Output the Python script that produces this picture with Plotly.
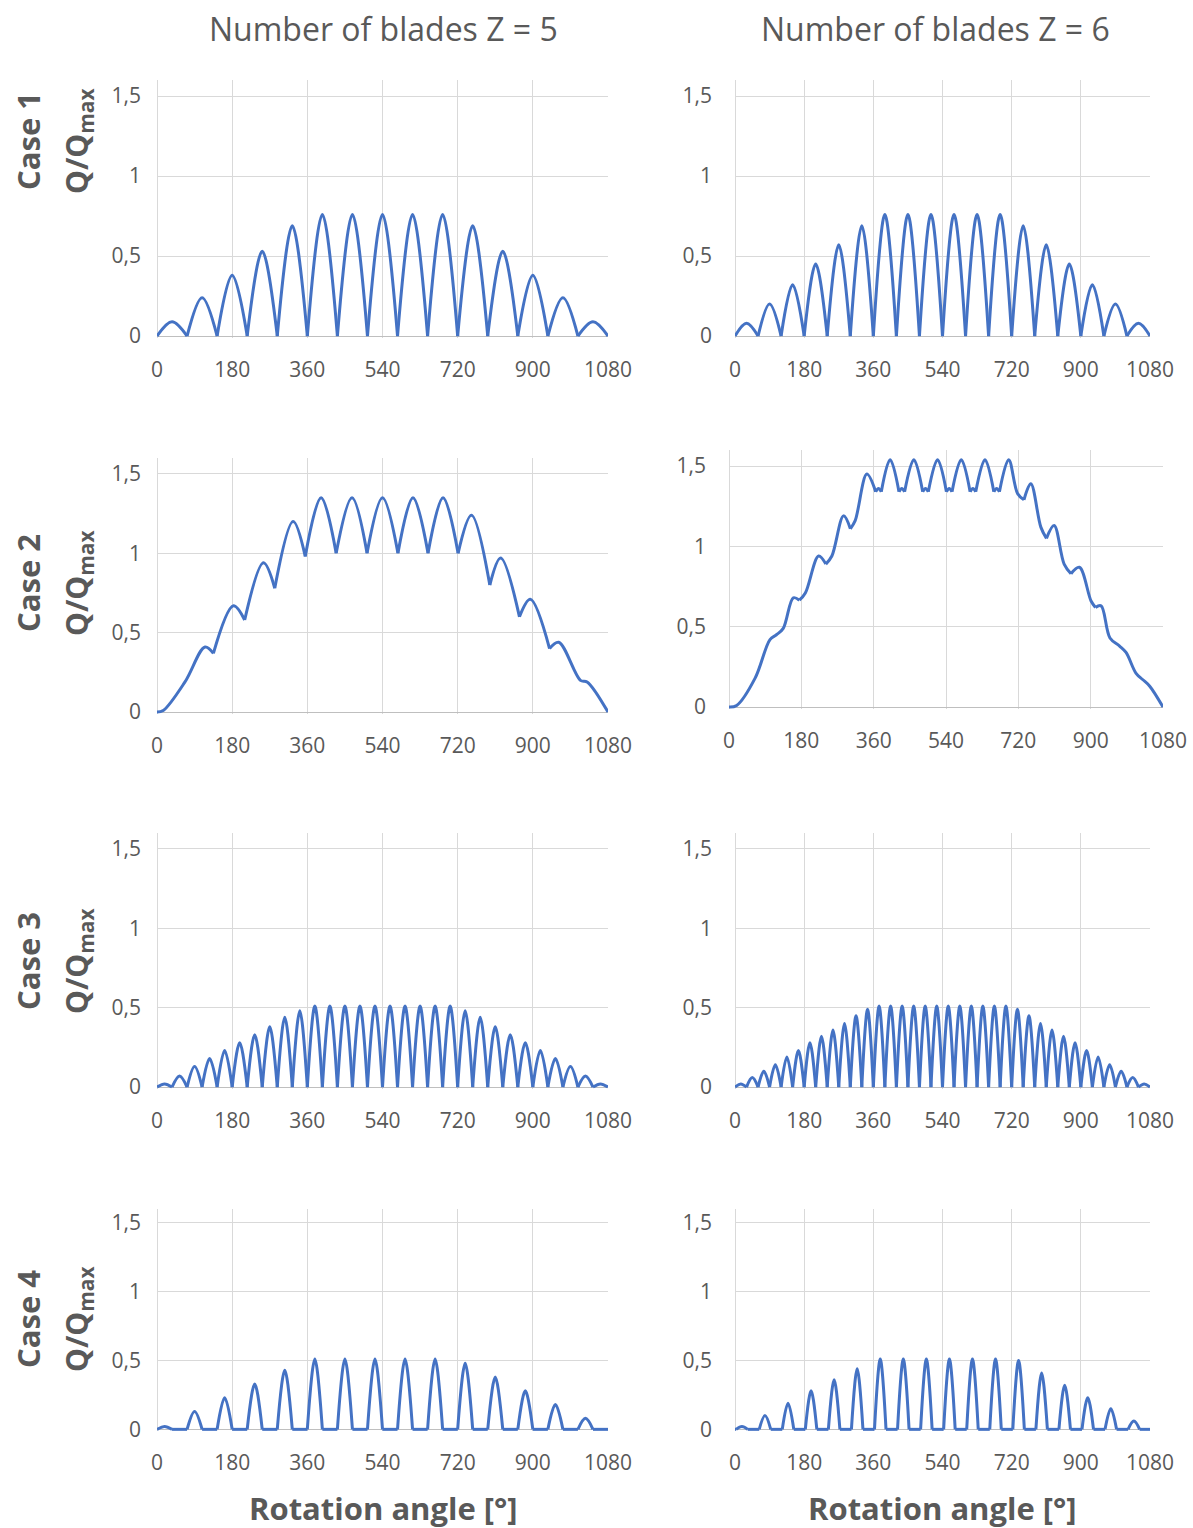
import plotly.graph_objects as go

# ---------------- data ----------------
ANGLE_TICKS = [0, 180, 360, 540, 720, 900, 1080]
ANGLE_TICK_TEXT = ["0", "180", "360", "540", "720", "900", "1080"]
Q_TICKS = [0, 0.5, 1, 1.5]
Q_TICK_TEXT = ["0", "0,5", "1", "1,5"]

COLUMN_TITLES = ["Number of blades Z = 5", "Number of blades Z = 6"]
ROW_TITLES = ["Case 1", "Case 2", "Case 3", "Case 4"]
Y_TITLE = "Q/Q<sub>max</sub>"
X_TITLE = "Rotation angle [°]"

# Case 1 : lobes between zero crossings
CASE1_Z5_ZEROS = [0, 72, 144, 216, 288, 360, 432, 504, 576, 648, 720, 792, 864, 936, 1008, 1080]
CASE1_Z5_PEAKS = [0.09, 0.24, 0.38, 0.53, 0.69, 0.76, 0.76, 0.76, 0.76, 0.76, 0.69, 0.53, 0.38, 0.24, 0.09]
CASE1_Z6_ZEROS = [0, 60, 120, 180, 240, 300, 360, 420, 480, 540, 600, 660, 720, 780, 840, 900, 960, 1020, 1080]
CASE1_Z6_PEAKS = [0.08, 0.20, 0.32, 0.45, 0.57, 0.69, 0.76, 0.76, 0.76, 0.76, 0.76, 0.76,
                  0.69, 0.57, 0.45, 0.32, 0.20, 0.08]

# Case 2 : key points (peaks, notches, shoulders)
CASE2_Z5_ANGLE = [0, 15, 67, 115, 135, 183, 210, 255, 282, 326, 355, 393, 429, 467, 503, 540, 577,
                  613, 649, 685, 721, 753, 797, 823, 868, 894, 940, 962, 1014, 1030, 1080]
CASE2_Z5_Q = [0, 0.01, 0.19, 0.41, 0.37, 0.67, 0.58, 0.94, 0.78, 1.20, 0.98, 1.35, 1.00, 1.35, 1.00,
              1.35, 1.00, 1.35, 1.00, 1.35, 1.00, 1.24, 0.80, 0.97, 0.60, 0.71, 0.40, 0.44, 0.20, 0.19, 0]
CASE2_Z6_ANGLE = [0, 19, 65, 102, 118, 135, 160, 175, 190, 223, 241, 256, 285, 302, 314, 343,
                  365, 372, 379, 401, 423, 430, 437, 460, 482, 489, 496, 519, 541, 548, 555, 578,
                  600, 607, 614, 637, 659, 666, 673, 696, 718, 734, 751, 776, 790, 809, 834, 851,
                  872, 901, 912, 926, 948, 972, 988, 1013, 1030, 1047, 1080]
CASE2_Z6_Q = [0, 0.01, 0.18, 0.42, 0.45, 0.49, 0.68, 0.665, 0.71, 0.94, 0.89, 0.94, 1.19, 1.11, 1.16, 1.45,
              1.34, 1.36, 1.34, 1.54, 1.34, 1.36, 1.34, 1.54, 1.34, 1.36, 1.34, 1.54, 1.34, 1.36, 1.34, 1.54,
              1.34, 1.36, 1.34, 1.54, 1.34, 1.36, 1.34, 1.54, 1.33, 1.29, 1.39, 1.12, 1.05, 1.13, 0.89, 0.83,
              0.87, 0.66, 0.62, 0.63, 0.43, 0.38, 0.34, 0.21, 0.17, 0.13, 0]

# Case 3 : lobes between zero crossings
CASE3_Z5_ZEROS = [0, 36, 72, 108, 144, 180, 216, 252, 288, 324, 360, 396, 432, 468, 504, 540, 576, 612,
                  648, 684, 720, 756, 792, 828, 864, 900, 936, 972, 1008, 1044, 1080]
CASE3_Z5_PEAKS = [0.02, 0.07, 0.13, 0.18, 0.23, 0.28, 0.33, 0.38, 0.44, 0.48,
                  0.51, 0.51, 0.51, 0.51, 0.51, 0.51, 0.51, 0.51, 0.51, 0.51,
                  0.48, 0.44, 0.38, 0.33, 0.28, 0.23, 0.18, 0.13, 0.07, 0.02]
CASE3_Z6_ZEROS = [0, 30, 60, 90, 120, 150, 180, 210, 240, 270, 300, 330, 360, 390, 420, 450, 480, 510,
                  540, 570, 600, 630, 660, 690, 720, 750, 780, 810, 840, 870, 900, 930, 960, 990, 1020,
                  1050, 1080]
CASE3_Z6_PEAKS = [0.02, 0.06, 0.10, 0.14, 0.19, 0.23, 0.28, 0.32, 0.36, 0.40, 0.45, 0.49,
                  0.51, 0.51, 0.51, 0.51, 0.51, 0.51, 0.51, 0.51, 0.51, 0.51, 0.51, 0.51,
                  0.49, 0.45, 0.40, 0.36, 0.32, 0.28, 0.23, 0.19, 0.14, 0.10, 0.06, 0.02]

# Case 4 : separated pulses (centre angle, half base width, peak)
CASE4_Z5_CENTERS = [18, 90, 162, 234, 306, 378, 450, 522, 594, 666, 738, 810, 882, 954, 1026]
CASE4_Z5_HALF_WIDTH = 18
CASE4_Z5_PEAKS = [0.02, 0.13, 0.23, 0.33, 0.43, 0.51, 0.51, 0.51, 0.51, 0.51, 0.48, 0.38, 0.28, 0.18, 0.08]
CASE4_Z6_CENTERS = [18, 78, 138, 198, 258, 318, 378, 438, 498, 558, 618, 678, 738, 798, 858, 918, 978, 1038]
CASE4_Z6_HALF_WIDTH = 15
CASE4_Z6_PEAKS = [0.02, 0.10, 0.19, 0.28, 0.36, 0.44, 0.51, 0.51, 0.51, 0.51, 0.51, 0.51,
                  0.50, 0.41, 0.32, 0.23, 0.15, 0.06]

# ---------------- styling / layout ----------------
W, H = 1193, 1528
BLUE = "#4472C4"
GRID = "#d9d9d9"
AXIS = "#bfbfbf"
TEXT = "#595959"
FONT = "Open Sans"

# (x-left, x-right, y-top, y-bottom) of each plot area in page pixels, row-major
PANELS = [
    (157, 608, 80, 338), (735, 1150, 80, 338),
    (157, 608, 458, 714), (729, 1163, 450, 709),
    (157, 608, 833, 1089), (735, 1150, 833, 1089),
    (157, 608, 1209, 1431), (735, 1150, 1209, 1431),
]


def fx(px):
    return px / W


def fy(py):
    return 1 - py / H


def lobe_curve(zeros, peaks):
    xs, ys = [], []
    for a, b, p in zip(zeros[:-1], zeros[1:], peaks):
        xs += [a, (a + b) / 2, b, None]
        ys += [0, p, 0, None]
    return xs, ys


def pulse_curve(centers, half, peaks, start=0, end=1080):
    xs, ys = [], []
    prev = start
    for c, p in zip(centers, peaks):
        a, b = c - half, c + half
        if a > prev:
            xs += [prev, a, None]
            ys += [0, 0, None]
        xs += [a, c, b, None]
        ys += [0, p, 0, None]
        prev = b
    if prev < end:
        xs += [prev, end]
        ys += [0, 0]
    return xs, ys


def notch_curve(angles, qs):
    # split the path at each notch so the cusps stay sharp
    xs, ys = [angles[0]], [qs[0]]
    for i in range(1, len(angles)):
        xs.append(angles[i])
        ys.append(qs[i])
        if i < len(angles) - 1 and qs[i] < qs[i - 1] and qs[i] < qs[i + 1]:
            xs += [None, angles[i]]
            ys += [None, qs[i]]
    return xs, ys


CURVES = [
    lobe_curve(CASE1_Z5_ZEROS, CASE1_Z5_PEAKS),
    lobe_curve(CASE1_Z6_ZEROS, CASE1_Z6_PEAKS),
    notch_curve(CASE2_Z5_ANGLE, CASE2_Z5_Q),
    notch_curve(CASE2_Z6_ANGLE, CASE2_Z6_Q),
    lobe_curve(CASE3_Z5_ZEROS, CASE3_Z5_PEAKS),
    lobe_curve(CASE3_Z6_ZEROS, CASE3_Z6_PEAKS),
    pulse_curve(CASE4_Z5_CENTERS, CASE4_Z5_HALF_WIDTH, CASE4_Z5_PEAKS),
    pulse_curve(CASE4_Z6_CENTERS, CASE4_Z6_HALF_WIDTH, CASE4_Z6_PEAKS),
]

fig = go.Figure()
layout = dict(
    width=W, height=H,
    margin=dict(l=0, r=0, t=0, b=0, autoexpand=False),
    paper_bgcolor="white", plot_bgcolor="white",
    showlegend=False,
    font=dict(family=FONT, color=TEXT),
)

for k, ((x0, x1, yt, yb), (cx, cy)) in enumerate(zip(PANELS, CURVES), start=1):
    suffix = "" if k == 1 else str(k)
    col = (k - 1) % 2
    fig.add_trace(go.Scatter(
        x=cx, y=cy, mode="lines", connectgaps=False, hoverinfo="skip",
        line=dict(color=BLUE, width=3, shape="spline", smoothing=1.0),
        xaxis="x" + suffix, yaxis="y" + suffix,
    ))
    layout["xaxis" + suffix] = dict(
        domain=[fx(x0), fx(x1)], anchor="y" + suffix, range=[0, 1080],
        tickmode="array", tickvals=ANGLE_TICKS, ticktext=ANGLE_TICK_TEXT,
        showgrid=True, gridcolor=GRID, gridwidth=1,
        zeroline=True, zerolinecolor=GRID, zerolinewidth=1,
        showline=False, ticks="", ticklabelstandoff=17,
        ticklabeloverflow="allow",
        tickfont=dict(family=FONT, size=21, color=TEXT),
        fixedrange=True,
    )
    layout["yaxis" + suffix] = dict(
        domain=[fy(yb), fy(yt)], anchor="x" + suffix, range=[-0.012, 1.6],
        tickmode="array", tickvals=Q_TICKS, ticktext=Q_TICK_TEXT,
        showgrid=True, gridcolor=GRID, gridwidth=1,
        zeroline=True, zerolinecolor=AXIS, zerolinewidth=1,
        showline=False, ticks="", ticklabelstandoff=15 if col == 0 else 22,
        ticklabeloverflow="allow",
        tickfont=dict(family=FONT, size=21, color=TEXT),
        fixedrange=True,
    )

annotations = []
# column titles
for title, cx in zip(COLUMN_TITLES, [383, 935]):
    annotations.append(dict(
        text=title, x=fx(cx), y=fy(28), xref="paper", yref="paper",
        xanchor="center", yanchor="middle", showarrow=False,
        font=dict(family=FONT, size=32, color=TEXT),
    ))
# row titles
for title, cy in zip(ROW_TITLES, [141, 583, 961, 1319]):
    annotations.append(dict(
        text=title, x=fx(28), y=fy(cy), xref="paper", yref="paper",
        xanchor="center", yanchor="middle", showarrow=False, textangle=-90,
        font=dict(family=FONT, size=31, color=TEXT, weight=700),
    ))
    annotations.append(dict(
        text=Y_TITLE, x=fx(78), y=fy(cy), xref="paper", yref="paper",
        xanchor="center", yanchor="middle", showarrow=False, textangle=-90,
        font=dict(family=FONT, size=30, color=TEXT, weight=700),
    ))
# x-axis titles
for cx in [383, 942]:
    annotations.append(dict(
        text=X_TITLE, x=fx(cx), y=fy(1508), xref="paper", yref="paper",
        xanchor="center", yanchor="middle", showarrow=False,
        font=dict(family=FONT, size=31, color=TEXT, weight=700),
    ))

layout["annotations"] = annotations
fig.update_layout(**layout)
fig.write_html("out.html", config={"displayModeBar": False},
               post_script="document.body.style.margin='0';")
